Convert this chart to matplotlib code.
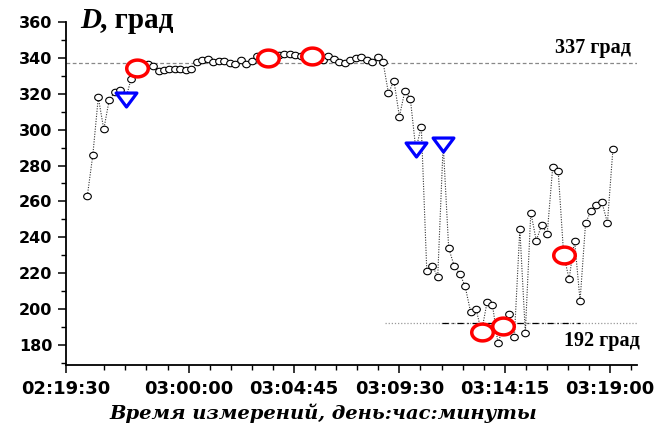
import numpy as np
import matplotlib
matplotlib.use("Agg")
import matplotlib.pyplot as plt
from matplotlib.path import Path
from matplotlib.ticker import FixedLocator, MultipleLocator

# ---- data (measurement index, azimuth D in degrees) ----
d_values = [263.2, 285.9, 318.0, 300.2, 316.7, 320.8, 322.1, 317.0, 328.4, 334.2,
            335.0, 336.6, 335.7, 332.5, 333.3, 333.6, 333.6, 333.6, 333.3, 333.6,
            337.7, 338.8, 339.2, 337.9, 338.4, 338.3, 337.3, 336.6, 338.8, 336.6,
            338.4, 341.0, 340.0, 339.8, 341.0, 341.6, 342.2, 342.2, 341.6, 341.0,
            341.0, 341.2, 339.0, 339.0, 341.2, 339.4, 337.6, 337.0, 338.8, 339.8,
            340.3, 338.8, 337.6, 340.3, 337.9, 320.3, 327.3, 307.3, 321.7, 317.1,
            289.0, 301.7, 221.5, 224.1, 218.1, 292.0, 234.0, 224.1, 219.8, 212.8,
            198.5, 200.0, 187.2, 203.7, 202.4, 181.0, 190.3, 197.2, 184.4, 244.7,
            186.8, 253.8, 238.2, 246.9, 241.9, 279.1, 277.2, 230.4, 216.7, 238.2,
            204.6, 247.7, 254.9, 258.0, 259.5, 248.0, 289.1]
red_idx = [9, 33, 41, 72, 76, 87]
tri_idx = [7, 60, 65]

level_high = 337
level_low = 192
high_label = "337 град"
low_label = "192 град"

tick_labels = ["02:19:30", "03:00:00", "03:04:45", "03:09:30", "03:14:15", "03:19:00"]
tick_pos = [-3.9, 18.5, 37.75, 57.0, 76.25, 95.5]
xlim = (-3.9, 100.4)
ylim = (169, 360)

x = np.arange(len(d_values))
y = np.array(d_values)

# ---- marker shapes (slightly wide, like the reference) ----
t = np.linspace(0, 2 * np.pi, 60)
ell_small = Path(np.column_stack([np.cos(t), 0.85 * np.sin(t)]), closed=True)
ell_red = Path(np.column_stack([np.cos(t), 0.78 * np.sin(t)]), closed=True)
tri = Path([(-1, 0.62), (1, 0.62), (0, -0.72), (-1, 0.62)],
           [Path.MOVETO, Path.LINETO, Path.LINETO, Path.CLOSEPOLY])

fig = plt.figure(figsize=(6.54, 4.25), dpi=100)
ax = fig.add_axes([66 / 654, 1 - 364.7 / 425, (637 - 66) / 654, (364.7 - 22) / 425])

# reference levels
ax.axhline(level_high, color="#888888", lw=0.9, ls=(0, (3, 2)), zorder=1)
ax.plot([54.4, xlim[1]], [level_low, level_low], color="#999999", lw=0.9,
        ls=(0, (1, 1.5)), zorder=1)
ax.plot([64.8, 90.0], [level_low, level_low], color="black", lw=0.9,
        ls=(0, (5, 3, 1, 3)), zorder=1)

# series
ax.plot(x, y, color="#333333", lw=0.8, ls=(0, (1, 1.3)), zorder=2)
ax.plot(x, y, ls="none", marker=ell_small, ms=5.5, mfc="white", mec="black",
        mew=0.8, zorder=3)
ax.plot(x[red_idx], y[red_idx], ls="none", marker=ell_red, ms=15.5, mfc="white",
        mec="#ff0000", mew=2.5, zorder=4)
ax.plot(x[tri_idx], y[tri_idx], ls="none", marker=tri, ms=15, mfc="white",
        mec="#0000ff", mew=2.3, zorder=4)

ax.set_xlim(*xlim)
ax.set_ylim(*ylim)

for s in ["top", "right"]:
    ax.spines[s].set_visible(False)
for s in ["left", "bottom"]:
    ax.spines[s].set_linewidth(1.3)

ax.yaxis.set_major_locator(FixedLocator(np.arange(180, 361, 20)))
ax.yaxis.set_minor_locator(MultipleLocator(10))
ax.xaxis.set_major_locator(FixedLocator(tick_pos))
ax.set_xticklabels(tick_labels)
minor_x = [p for k in range(-1, 6) for p in np.arange(1, 5) * 3.85 + 18.5 + 19.25 * (k - 1)
           if xlim[0] < p < xlim[1]]
ax.xaxis.set_minor_locator(FixedLocator(minor_x))

ax.tick_params(axis="both", which="major", direction="out", length=6, width=1.1)
ax.tick_params(axis="both", which="minor", direction="out", length=3.5, width=1.0)
ax.tick_params(axis="y", which="major", pad=4)
ax.tick_params(axis="x", which="major", pad=5)
for lab in ax.get_yticklabels():
    lab.set_fontfamily("DejaVu Sans")
    lab.set_fontweight("bold")
    lab.set_fontsize(11.5)
for lab in ax.get_xticklabels():
    lab.set_fontfamily("DejaVu Sans")
    lab.set_fontweight("bold")
    lab.set_fontsize(13)

serif = "Liberation Serif"
ax.text(92.4, 345.3, high_label, ha="center", va="center", fontfamily=serif,
        fontweight="bold", fontsize=14.5)
ax.text(94.0, 182.3, low_label, ha="center", va="center", fontfamily=serif,
        fontweight="bold", fontsize=14.5)

fig.text(80 / 654, 1 - 20 / 425, "D", ha="left", va="center", fontfamily=serif,
         fontweight="bold", fontstyle="italic", fontsize=21)
fig.text(100 / 654, 1 - 20 / 425, ", град", ha="left", va="center", fontfamily=serif,
         fontweight="bold", fontsize=21)

fig.text(323 / 654, 1 - 413 / 425, "Время измерений, день:час:минуты", ha="center",
         va="center", fontfamily="DejaVu Serif", fontweight="bold", fontstyle="italic",
         fontsize=14)

fig.savefig("out.png", dpi=100)
